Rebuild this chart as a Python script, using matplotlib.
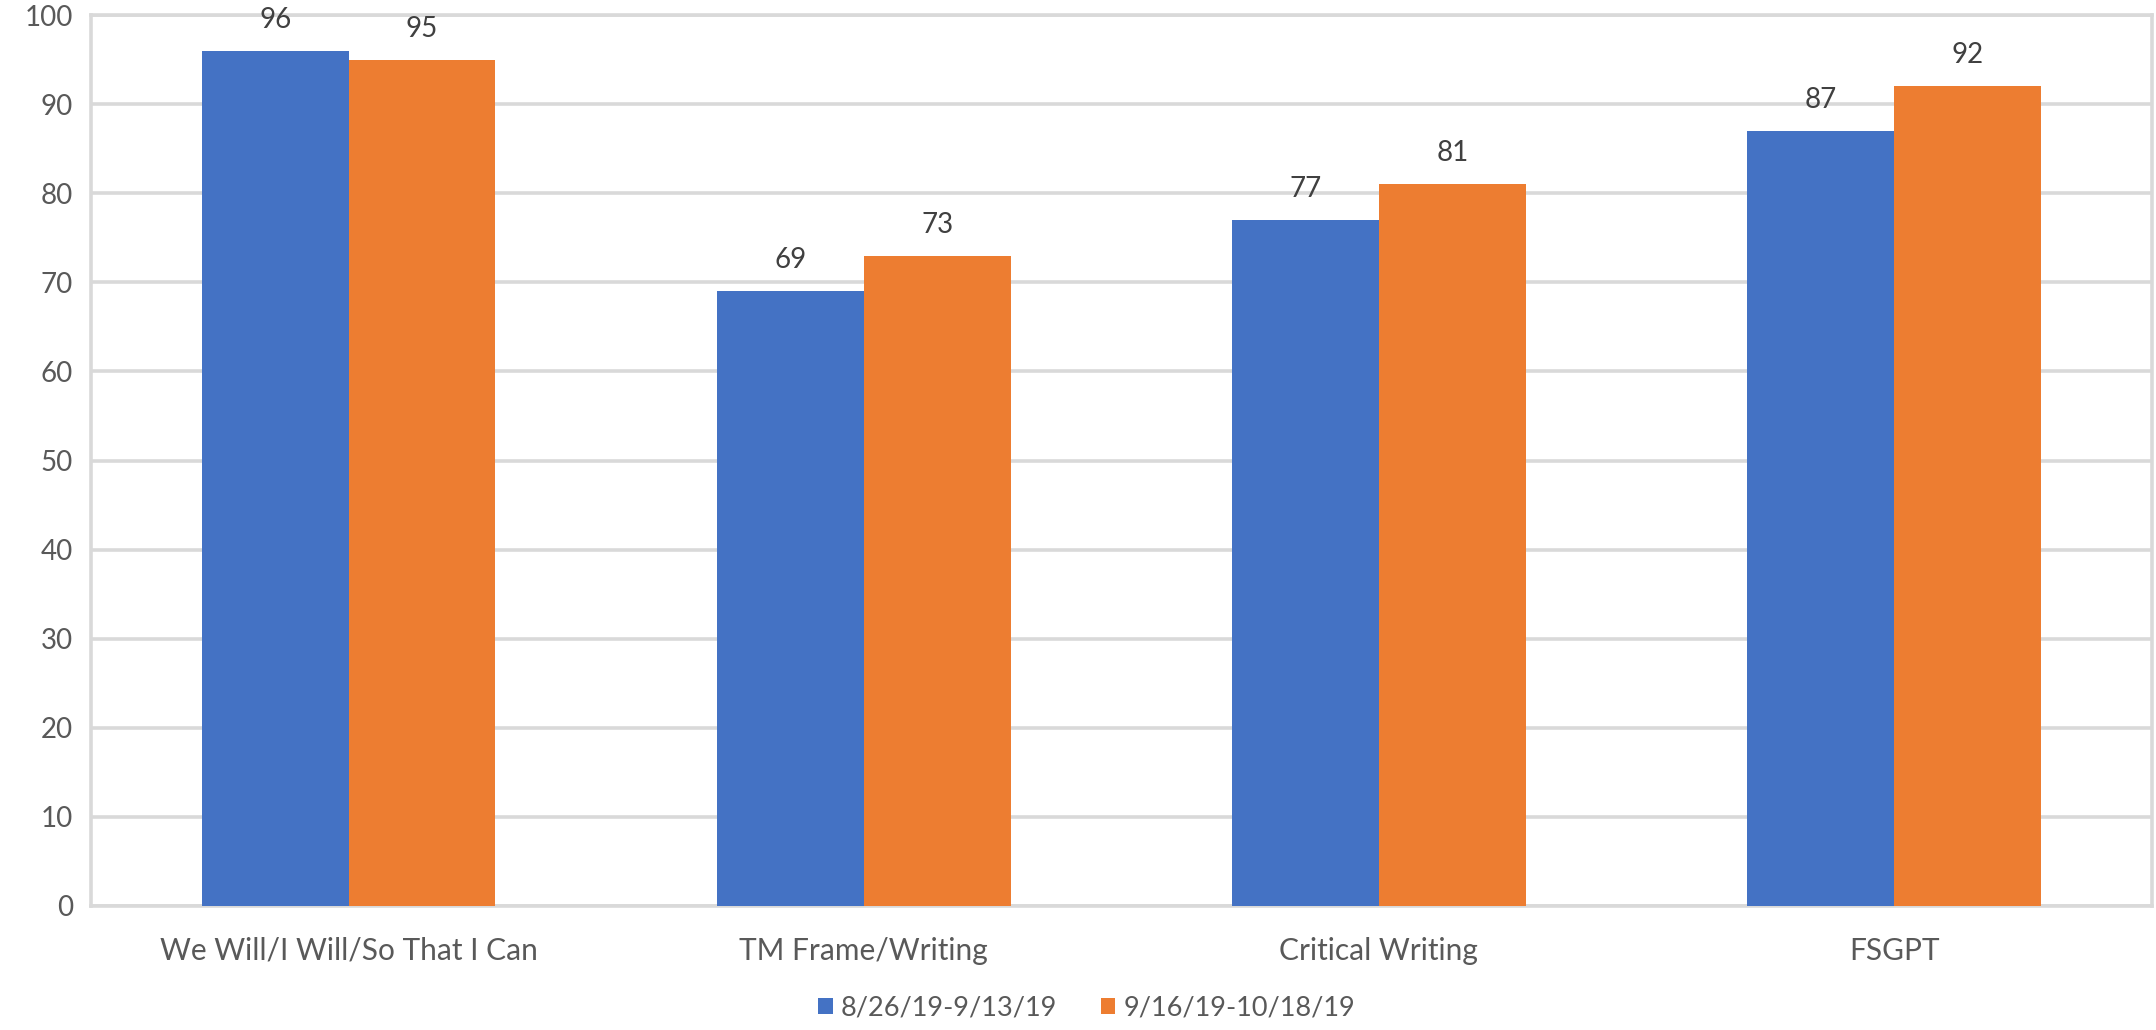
import matplotlib.pyplot as plt
import numpy as np

# categories and scores for the two date ranges
categories = ['We Will/I Will/So That I Can', 'TM Frame/Writing', 'Critical Writing', 'FSGPT']
series_names = ['8/26/19-9/13/19', '9/16/19-10/18/19']
first_period = [96, 69, 77, 87]
second_period = [95, 73, 81, 92]
y_ticks = [0, 10, 20, 30, 40, 50, 60, 70, 80, 90, 100]

plt.rcParams['font.family'] = ['Lato', 'DejaVu Sans']

blue = '#4472C4'
orange = '#ED7D31'
grid_color = '#D9D9D9'
tick_color = '#595959'
label_color = '#404040'

fig = plt.figure(figsize=(21.56, 10.30), dpi=100)
ax = fig.add_axes([0.0422, 0.1204, 0.9558, 0.865])

x = np.arange(len(categories))
width = 0.285

bars1 = ax.bar(x - width / 2, first_period, width, color=blue, label=series_names[0], zorder=3)
bars2 = ax.bar(x + width / 2, second_period, width, color=orange, label=series_names[1], zorder=3)

# value labels above each bar
for bars in (bars1, bars2):
    for bar in bars:
        h = bar.get_height()
        ax.annotate(f'{h:.0f}', (bar.get_x() + bar.get_width() / 2, h),
                    xytext=(0, 13), textcoords='offset points',
                    ha='center', va='bottom', fontsize=20, color=label_color)

ax.set_xlim(-0.5, len(categories) - 0.5)
ax.set_ylim(0, 100)
ax.set_yticks(y_ticks)
ax.set_xticks(x)
ax.set_xticklabels(categories, fontsize=21.5)

ax.yaxis.grid(True, color=grid_color, linewidth=2.6, zorder=0)
ax.set_axisbelow(True)
for side in ax.spines.values():
    side.set_color(grid_color)
    side.set_linewidth(2.6)

ax.tick_params(axis='y', length=0, labelsize=20, labelcolor=tick_color, pad=13)
ax.tick_params(axis='x', length=0, labelcolor=tick_color, pad=22)

fig.legend(loc='center', bbox_to_anchor=(0.504, 0.021), ncol=2, frameon=False,
           fontsize=19.5, labelcolor=tick_color, handlelength=0.55, handleheight=0.55,
           handletextpad=0.3, columnspacing=1.6)

fig.savefig('out.png', dpi=100)
